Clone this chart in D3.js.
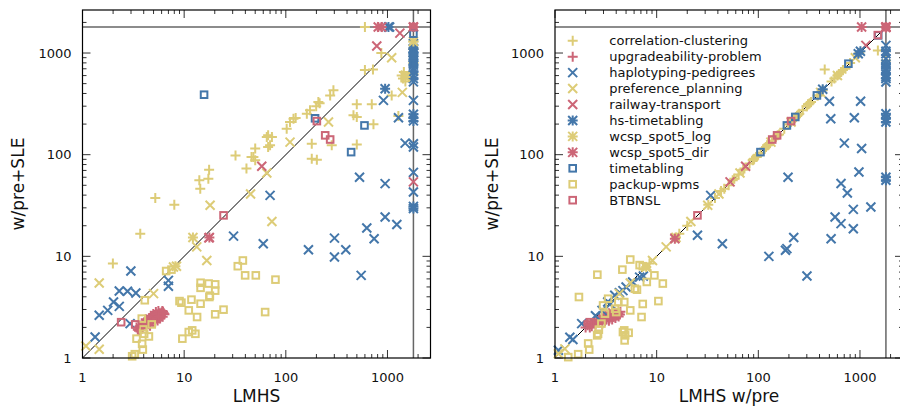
<!DOCTYPE html>
<html>
<head>
<meta charset="utf-8">
<script src="https://cdn.jsdelivr.net/npm/d3@7"></script>
<style>
  html, body { margin: 0; padding: 0; background: #fff; }
  svg { display: block; font-family: "DejaVu Sans", sans-serif; }
</style>
</head>
<body>
<svg id="chart" width="900" height="407"></svg>
<script>
// ---- solver run times (seconds); each series as [x, y] pairs ----
const TIMEOUT = 1800;
const tickValues = [1, 10, 100, 1000];
const tickLabels = ["1", "10", "100", "1000"];

const seriesNames = ["correlation-clustering", "upgradeability-problem", "haplotyping-pedigrees",
  "preference_planning", "railway-transport", "hs-timetabling", "wcsp_spot5_log", "wcsp_spot5_dir",
  "timetabling", "packup-wpms", "BTBNSL"];
const seriesColors = ["#DDCC77", "#CC6677", "#4477AA", "#DDCC77", "#CC6677", "#4477AA",
  "#DDCC77", "#CC6677", "#4477AA", "#DDCC77", "#CC6677"];
const seriesSymbols = ["plus", "plus", "cross", "cross", "cross", "star", "star", "star",
  "square", "square", "square"];

// LMHS vs w/pre+SLE
const ccLeft = [[600,1800],[870,1000],[600,680],[720,690],[294,430],[273,383],[209,330],[199,299],
  [173,273],[161,253],[119,226],[110,210],[102,180],[67,155],[65,149],[73,149],[70,124],[67,119],
  [50,115],[46,95],[50,88],[32,98],[41,73],[48,95],[499,313],[701,313],[463,244],[499,235],[728,199],
  [499,126],[180,128],[180,91],[202,89],[283,124],[1100,383],[1280,240],[1380,600],[1450,650],
  [1500,525],[1.99,8.5],[3.7,16.7],[5.2,37.5],[8.0,32.2],[14.1,56],[14.4,46.3],[17.6,71],[17.3,58],
  [8.2,8.0],[1800,1300],[1800,1100],[1800,800],[1800,620],[215,320],[125,230],[1420,560]];
const upLeft = [[3.5,1.9],[3.71,1.98],[3.92,2.06],[4.16,2.15],[4.4,2.24],[4.66,2.33],[4.93,2.42],
  [5.22,2.52],[5.53,2.63],[5.86,2.74],[6.2,2.85],[4.62,2.08],[4.19,2.41],[5.18,2.25],[4.7,2.6],
  [5.8,2.45],[5.27,2.83],[6.15,2.55],[5.58,2.9],[5.48,2.34],[4.97,2.71],[6.4,2.7],[3.8,2.1],
  [4.3,2.35],[4.9,2.3],[5.1,2.6],[5.9,2.6],[6.0,2.8],[3.6,1.85],[4.05,2.25],[3.4,2.0],[3.65,2.05],
  [4.0,2.15],[4.5,2.45],[4.8,2.5],[5.0,2.4],[5.35,2.45],[5.4,2.7],[5.7,2.75],[6.3,2.75],[6.1,2.9],
  [5.6,2.55],[4.45,2.15],[3.85,1.95],[1800,1800]];
const hapLeft = [[1.33,1.61],[1.46,2.63],[1.77,2.94],[2.02,3.56],[2.3,3.22],[2.3,4.56],[2.77,4.53],
  [2.94,2.18],[2.99,7.17],[3.35,4.36],[7.0,5.8],[7.0,5.07],[30.6,15.8],[60,13.3],[70,39.8],
  [167,11.6],[301,15.1],[301,9.85],[389,11.6],[551,6.5],[531,60],[626,19],[739,14.9],[948,24.4],
  [948,51.9],[1236,20.6],[913,342],[1283,231],[1492,130],[1800,119],[1800,342],[1800,128],
  [1800,67],[1800,43],[1800,1240],[1800,1100],[1800,1000],[1800,900],[1800,800],[1800,700],
  [1800,600],[1800,520],[1050,1800]];
const ppLeft = [[1.08,1.31],[1.46,1.22],[1.46,5.47],[5.0,4.3],[7.85,7.85],[8.4,8.0],[13.3,12.4],
  [16.7,9.1],[18,31.8],[45,41],[65,66],[73,22],[110,133],[263,210],[1100,900],[1400,410],[1500,600]];
const rtLeft = [[785,1172],[1324,1570],[58,77],[1800,54],[1800,1800],[17.5,15.2]];
const hsLeft = [[1023,1800],[948,446],[1800,1100],[1800,1000],[1800,950],[1800,850],[1800,760],
  [1800,660],[1800,560],[1800,250],[1800,230],[1800,215],[1800,31],[1800,29.5]];
const wlLeft = [[12.2,15.3],[1800,1300],[1500,580]];
const wdLeft = [[17.7,15.3],[811,1800],[875,1800],[1800,1800]];
const ttLeft = [[15.7,389],[194,228],[594,194],[439,106],[1800,1550],[1800,785]];
const pkLeft = [[3.08,1.04],[3.27,1.09],[3.4,1.55],[3.86,1.38],[3.92,1.21],[3.95,1.91],[4.04,1.73],
  [4.1,3.7],[4.5,1.63],[4.8,2.14],[3.83,2.44],[6.65,7.17],[7.5,7.4],[9.0,3.63],[9.4,3.5],[9.6,1.55],
  [11.1,1.8],[12.0,1.87],[12.9,1.73],[11.1,2.94],[11.8,3.75],[13.4,2.53],[14.5,3.42],[14.5,5.5],
  [14.5,4.9],[17.4,5.4],[17.9,4.1],[20.2,5.3],[20.2,4.6],[20.2,2.69],[24.4,2.99],[33.7,8.0],
  [37.8,9.1],[39.8,6.5],[50.7,6.5],[62.6,2.83],[79.1,5.9],[17.7,3.98]];
const btLeft = [[2.4,2.25],[3.3,2.14],[24.4,25.3],[202,214],[244,155],[273,141],[1800,1800]];

// LMHS w/pre vs w/pre+SLE
const ccRight = [[985,1000],[450,690],[680,680],[430,430],[383,383],[330,330],[299,299],[273,273],
  [253,253],[226,226],[210,210],[180,180],[155,155],[149,149],[146,149],[124,124],[119,119],
  [115,115],[95,95],[88,88],[98,98],[73,73],[97,96],[313,313],[308,313],[244,244],[235,235],
  [199,199],[126,126],[128,128],[91,91],[89,89],[122,124],[383,383],[240,240],[600,600],[650,650],
  [525,525],[8.5,8.5],[16.7,16.7],[37.5,37.5],[32.2,32.2],[56,56],[46.3,46.3],[71,71],[58,58],
  [20,20],[1500,1060],[1800,845],[620,620],[800,800],[1800,1800],[320,320],[230,230],[560,560],
  [720,700],[160,158],[136,137],[105,104],[82,82],[64,64],[51,50],[43,44]];
const upRight = [[2.1,2.1],[2.26,2.16],[2.43,2.23],[2.62,2.3],[2.82,2.37],[3.04,2.45],[3.27,2.52],
  [3.52,2.6],[3.79,2.68],[4.08,2.76],[4.4,2.85],[2.92,2.18],[2.72,2.52],[3.39,2.32],[3.15,2.68],
  [3.65,2.39],[3.39,2.76],[3.93,2.47],[3.66,2.82],[4.23,2.56],[2.3,2.05],[2.55,2.38],[3.1,2.3],
  [3.6,2.55],[4.1,2.62],[2.0,2.0],[2.2,2.0],[2.35,2.2],[2.5,2.15],[2.7,2.25],[2.9,2.4],[3.0,2.6],
  [3.2,2.4],[3.45,2.45],[3.5,2.7],[3.8,2.55],[3.9,2.8],[4.2,2.75],[4.35,2.68],[2.05,2.15],
  [1800,1800]];
const hapRight = [[1.08,1.19],[1.4,1.6],[1.5,1.52],[1.83,2.18],[2.5,2.6],[2.9,2.94],[3.3,3.55],
  [3.5,3.4],[3.87,4.14],[4.3,4.4],[4.66,4.6],[5.0,4.99],[5.8,5.6],[6.8,6.25],[7.4,6.4],[34,39.8],
  [25.2,16.1],[44.3,13.3],[127,10],[191,11.9],[185,11.5],[223,15.3],[301,6.4],[196,60],[651,21],
  [520,14.9],[569,24.4],[651,52],[751,42],[860,29],[860,18.7],[977,67.6],[1280,30.6],[702,130],
  [1038,115],[516,226],[880,231],[501,335],[1014,335],[1800,1190],[1800,985],[1800,880],
  [1800,675],[1800,580],[1800,518]];
const ppRight = [[1.08,1.1],[1.25,1.23],[5.5,5.47],[4.3,4.3],[7.85,7.85],[8.0,8.0],[12.4,12.4],
  [9.1,9.1],[31.8,31.8],[41,41],[66,66],[21.7,22],[133,133],[210,210],[900,900],[410,410],[600,600]];
const rtRight = [[1143,1190],[75,77],[52.7,54],[1800,1800],[15.2,15.2]];
const hsRight = [[962,985],[1010,1040],[430,440],[1800,1040],[1800,780],[1800,700],[1800,620],
  [1800,560],[1800,253],[1800,226],[1800,210],[1800,60],[1800,56]];
const wlRight = [[15.5,15.3],[7.9,7.85]];
const wdRight = [[15.1,14.9],[1038,1800],[1800,1800],[1800,1780]];
const ttRight = [[769,785],[377,383],[231,235],[191,194],[105,106],[1510,1492]];
const pkRight = [[1.35,1.02],[1.69,1.09],[2.12,1.39],[2.17,1.21],[1.72,3.98],[2.61,6.6],[2.65,1.73],
  [2.7,1.9],[2.6,1.67],[2.86,2.18],[3.1,2.73],[2.97,3.29],[3.9,3.05],[4.2,3.55],[4.8,3.55],
  [5.5,2.94],[4.84,1.49],[4.66,1.8],[4.9,1.67],[5.3,1.77],[4.8,1.87],[5.5,9.3],[4.6,7.4],[7.3,8.0],
  [8.0,5.6],[9.5,6.5],[10.4,3.63],[11.5,5.4],[6.1,4.8],[6.4,4.7],[7.3,3.4],[7.1,2.53],[3.33,3.83],
  [4.0,2.83],[6.8,8.2]];
const btRight = [[2.2,2.25],[2.1,2.14],[25.2,25.3],[210,214],[153,155],[137,141],[1500,1500],[1800,1800]];

const leftSets = [ccLeft, upLeft, hapLeft, ppLeft, rtLeft, hsLeft, wlLeft, wdLeft, ttLeft, pkLeft, btLeft];
const rightSets = [ccRight, upRight, hapRight, ppRight, rtRight, hsRight, wlRight, wdRight, ttRight, pkRight, btRight];

// ---- drawing ----
const svg = d3.select("#chart");
const DOMAIN = [1, 2650];
const SIZE = 348;
const TOP = 10;

function symbolPath(kind) {
  const p = 5, c = 4.5;
  const plus = `M${-p},0H${p}M0,${-p}V${p}`;
  const cross = `M${-c},${-c}L${c},${c}M${-c},${c}L${c},${-c}`;
  if (kind === "plus") return plus;
  if (kind === "cross") return cross;
  if (kind === "star") return plus + cross;
  return null;
}

function drawMarker(g, kind, color, x, y) {
  if (kind === "square") {
    g.append("rect").attr("x", x - 3.3).attr("y", y - 3.3).attr("width", 6.6).attr("height", 6.6)
      .attr("fill", "none").attr("stroke", color).attr("stroke-width", 2);
  } else {
    g.append("path").attr("transform", `translate(${x},${y})`).attr("d", symbolPath(kind))
      .attr("fill", "none").attr("stroke", color).attr("stroke-width", 2);
  }
}

function panel(left, sets, xTitle, yTitleX, showLegend) {
  const x = d3.scaleLog().domain(DOMAIN).range([left, left + SIZE]);
  const y = d3.scaleLog().domain(DOMAIN).range([TOP + SIZE, TOP]);
  const g = svg.append("g");

  // timeout lines and the y = x diagonal
  g.append("line").attr("x1", left).attr("x2", left + SIZE)
    .attr("y1", y(TIMEOUT)).attr("y2", y(TIMEOUT)).attr("stroke", "#666").attr("stroke-width", 1.5);
  g.append("line").attr("x1", x(TIMEOUT)).attr("x2", x(TIMEOUT))
    .attr("y1", TOP).attr("y2", TOP + SIZE).attr("stroke", "#666").attr("stroke-width", 1.5);
  g.append("line").attr("x1", x(1)).attr("y1", y(1)).attr("x2", x(TIMEOUT)).attr("y2", y(TIMEOUT))
    .attr("stroke", "#000").attr("stroke-width", 1);

  // inward ticks on all four sides
  const minor = [];
  for (let d = 1; d <= 1000; d *= 10) for (let k = 2; k <= 9; k++) if (d * k <= DOMAIN[1]) minor.push(d * k);
  const tickG = g.append("g").attr("stroke", "#333").attr("stroke-width", 1);
  const addTicks = (vals, len) => {
    vals.forEach(v => {
      const px = x(v), py = y(v);
      tickG.append("line").attr("x1", px).attr("x2", px).attr("y1", TOP + SIZE).attr("y2", TOP + SIZE - len);
      tickG.append("line").attr("x1", px).attr("x2", px).attr("y1", TOP).attr("y2", TOP + len);
      tickG.append("line").attr("y1", py).attr("y2", py).attr("x1", left).attr("x2", left + len);
      tickG.append("line").attr("y1", py).attr("y2", py).attr("x1", left + SIZE).attr("x2", left + SIZE - len);
    });
  };
  addTicks(tickValues, 8);
  addTicks(minor, 4);

  // tick labels
  tickValues.forEach((v, i) => {
    g.append("text").attr("x", x(v)).attr("y", TOP + SIZE + 24).attr("text-anchor", "middle")
      .attr("font-size", 13).attr("fill", "#111").text(tickLabels[i]);
    g.append("text").attr("x", left - 11).attr("y", y(v)).attr("dy", "0.36em").attr("text-anchor", "end")
      .attr("font-size", 13).attr("fill", "#111").text(tickLabels[i]);
  });

  // axis titles
  g.append("text").attr("x", left + SIZE / 2).attr("y", 402).attr("text-anchor", "middle")
    .attr("font-size", 17).attr("fill", "#111").text(xTitle);
  g.append("text").attr("transform", `translate(${yTitleX},${TOP + SIZE / 2}) rotate(-90)`)
    .attr("dy", "0.35em").attr("text-anchor", "middle").attr("font-size", 17).attr("fill", "#111")
    .text("w/pre+SLE");

  // points
  const pts = g.append("g");
  sets.forEach((data, s) => {
    data.forEach(d => drawMarker(pts, seriesSymbols[s], seriesColors[s], x(d[0]), y(d[1])));
  });

  // frame
  g.append("rect").attr("x", left).attr("y", TOP).attr("width", SIZE).attr("height", SIZE)
    .attr("fill", "none").attr("stroke", "#000").attr("stroke-width", 1.2);

  if (showLegend) {
    const lg = g.append("g");
    seriesNames.forEach((name, i) => {
      const ly = 40.7 + i * 15.95;
      drawMarker(lg, seriesSymbols[i], seriesColors[i], left + 17.7, ly);
      lg.append("text").attr("x", left + 54.3).attr("y", ly).attr("dy", "0.36em")
        .attr("font-size", 13).attr("fill", "#111").text(name);
    });
  }
}

panel(82.5, leftSets, "LMHS", 18, false);
panel(555, rightSets, "LMHS w/pre", 492, true);
</script>
</body>
</html>
